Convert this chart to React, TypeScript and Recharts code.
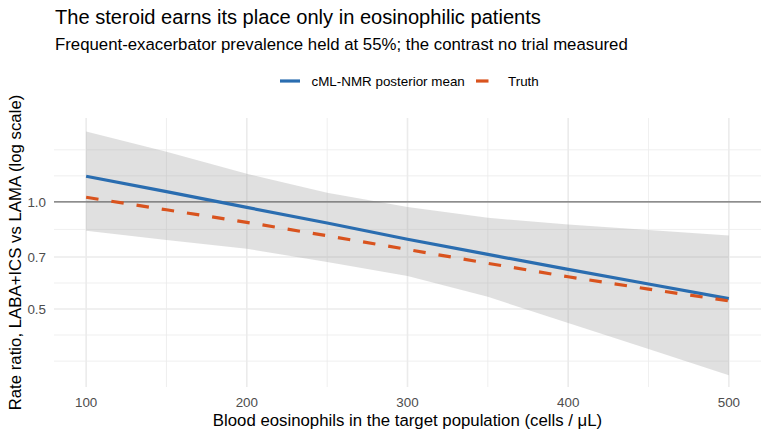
import { ComposedChart, Area, Line, XAxis, YAxis, CartesianGrid, ReferenceLine } from 'recharts';

const eosinophils = [100, 150, 200, 250, 300, 350, 400, 450, 500];
const posteriorMean = [1.18, 1.068, 0.965, 0.872, 0.785, 0.712, 0.646, 0.588, 0.535];
const truth = [1.03, 0.95, 0.876, 0.803, 0.735, 0.672, 0.616, 0.569, 0.527];
const lower = [0.829, 0.782, 0.738, 0.678, 0.619, 0.541, 0.457, 0.386, 0.326];
const upper = [1.577, 1.382, 1.199, 1.06, 0.968, 0.902, 0.864, 0.834, 0.804];

const xTicks = [100, 200, 300, 400, 500];
const xMinor = [150, 250, 350, 450];
const yTicks = [0.5, 0.7, 1.0];
const yMinor = [0.357, 0.4226, 0.5916, 0.8367, 1.183, 1.4];

const data = eosinophils.map((x, i) => ({
    x,
    mean: posteriorMean[i],
    truth: truth[i],
    band: [lower[i], upper[i]],
}));

const FONT = "'Liberation Sans', Arial, Helvetica, sans-serif";
const BLUE = '#2a6db0';
const ORANGE = '#d9531e';

function App() {
    return (
        <div style={{ position: 'absolute', left: 0, top: 0, width: 770, height: 440, background: '#fff' }}>
            <ComposedChart
                width={770}
                height={440}
                data={data}
                margin={{ top: 118, right: 9, bottom: 13, left: 14 }}
            >
                <CartesianGrid
                    stroke="#ebebeb"
                    strokeWidth={0.8}
                    horizontalValues={yMinor}
                    verticalValues={xMinor}
                />
                <CartesianGrid
                    stroke="#ebebeb"
                    strokeWidth={1.6}
                    horizontalValues={yTicks}
                    verticalValues={xTicks}
                />
                <XAxis
                    dataKey="x"
                    type="number"
                    domain={[80, 520]}
                    ticks={xTicks}
                    allowDataOverflow
                    axisLine={false}
                    tickLine={false}
                    tickSize={6}
                    tickMargin={4}
                    height={40}
                    tick={{ fill: '#4d4d4d', fontSize: 13.4, fontFamily: FONT }}
                />
                <YAxis
                    type="number"
                    scale="log"
                    domain={[0.302, 1.72]}
                    ticks={yTicks}
                    allowDataOverflow
                    axisLine={false}
                    tickLine={false}
                    tickSize={6}
                    tickMargin={2}
                    width={40}
                    tickFormatter={(v: number) => v.toFixed(1)}
                    tick={{ fill: '#4d4d4d', fontSize: 13.4, fontFamily: FONT }}
                />
                <Area
                    dataKey="band"
                    type="linear"
                    stroke="none"
                    fill="#999999"
                    fillOpacity={0.3}
                    isAnimationActive={false}
                />
                <ReferenceLine y={1} stroke="#6e6e6e" strokeWidth={1.3} />
                <Line
                    dataKey="mean"
                    type="linear"
                    stroke={BLUE}
                    strokeWidth={3.2}
                    dot={false}
                    isAnimationActive={false}
                />
                <Line
                    dataKey="truth"
                    type="linear"
                    stroke={ORANGE}
                    strokeWidth={3.2}
                    strokeDasharray="12.5 13"
                    dot={false}
                    isAnimationActive={false}
                />
            </ComposedChart>
            <svg
                width={770}
                height={440}
                style={{ position: 'absolute', left: 0, top: 0, pointerEvents: 'none' }}
                fontFamily={FONT}
            >
                <text x={55} y={24} fontSize={20.1} fill="#000">
                    The steroid earns its place only in eosinophilic patients
                </text>
                <text x={55} y={50} fontSize={16.8} fill="#000">
                    Frequent-exacerbator prevalence held at 55%; the contrast no trial measured
                </text>
                <line x1={280} x2={300} y1={81} y2={81} stroke={BLUE} strokeWidth={3.2} />
                <text x={311.5} y={85.8} fontSize={13.4} fill="#000">cML-NMR posterior mean</text>
                <line x1={476} x2={496} y1={81} y2={81} stroke={ORANGE} strokeWidth={3.2} strokeDasharray="12.5 13" />
                <text x={508} y={85.8} fontSize={13.4} fill="#000">Truth</text>
                <text x={407.5} y={426} fontSize={16.8} textAnchor="middle" fill="#000">
                    Blood eosinophils in the target population (cells / μL)
                </text>
                <text
                    x={0}
                    y={0}
                    fontSize={16.8}
                    textAnchor="middle"
                    fill="#000"
                    transform="translate(21, 252.5) rotate(-90)"
                >
                    Rate ratio, LABA+ICS vs LAMA (log scale)
                </text>
            </svg>
        </div>
    );
}

export default App;
